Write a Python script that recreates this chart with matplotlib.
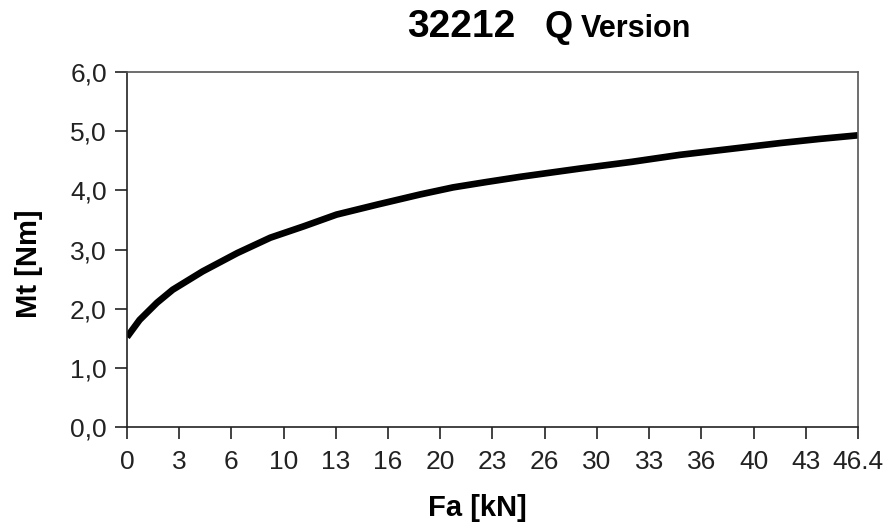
import numpy as np
import matplotlib

matplotlib.use("Agg")
import matplotlib.pyplot as plt
from matplotlib.ticker import FuncFormatter

plt.rcParams["font.family"] = ["Liberation Sans", "DejaVu Sans"]

# 数据
fa = [0.0, 0.8, 1.9, 2.9, 4.8, 7.0, 9.1, 11.2, 13.3, 15.9, 18.6, 20.7,
      22.8, 25.0, 28.8, 32.0, 35.1, 38.3, 41.5, 44.0, 46.4]
mt = [1.52, 1.81, 2.10, 2.32, 2.63, 2.94, 3.20, 3.39, 3.59, 3.76, 3.93, 4.05,
      4.14, 4.23, 4.37, 4.48, 4.60, 4.70, 4.80, 4.87, 4.93]
x_tick_labels = ["0", "3", "6", "10", "13", "16", "20", "23", "26", "30",
                 "33", "36", "40", "43", "46.4"]
y_ticks = [0, 1, 2, 3, 4, 5, 6]


def main():
    fig = plt.figure(figsize=(8.9, 5.26), dpi=100)
    ax = fig.add_axes([0.1427, 0.1882, 0.8213, 0.6749])

    ax.plot(fa, mt, color="black", linewidth=4.8, solid_capstyle="butt")

    ax.set_xlim(0, 46.4)
    ax.set_ylim(0, 6)
    ax.set_xticks(np.linspace(0, 46.4, len(x_tick_labels)))
    ax.set_xticklabels(x_tick_labels)
    ax.set_yticks(y_ticks)
    ax.yaxis.set_major_formatter(FuncFormatter(lambda v, p: f"{v:.1f}".replace(".", ",")))

    ax.tick_params(direction="out", length=8.5, width=1.2, labelsize=19,
                   colors="#222222", labelcolor="#222222")
    ax.tick_params(axis="x", pad=8)
    ax.tick_params(axis="y", pad=6)

    for side in ["left", "bottom"]:
        ax.spines[side].set_color("#222222")
        ax.spines[side].set_linewidth(1.2)
    for side in ["top", "right"]:
        ax.spines[side].set_color("#555555")
        ax.spines[side].set_linewidth(1.2)

    ax.set_xlabel("Fa [kN]", fontsize=21, fontweight="bold")
    ax.xaxis.set_label_coords(0.48, -0.19)
    ax.set_ylabel("Mt [Nm]", fontsize=21, fontweight="bold")
    ax.yaxis.set_label_coords(-0.115, 0.46)

    # 标题
    fig.text(0.458, 0.93, "32212", fontsize=28, fontweight="bold", ha="left", va="baseline")
    fig.text(0.612, 0.93, "Q", fontsize=26, fontweight="bold", ha="left", va="baseline")
    fig.text(0.653, 0.93, "Version", fontsize=22, fontweight="bold", ha="left", va="baseline")

    fig.savefig("out.png", dpi=100)
    plt.close(fig)


if __name__ == "__main__":
    main()
